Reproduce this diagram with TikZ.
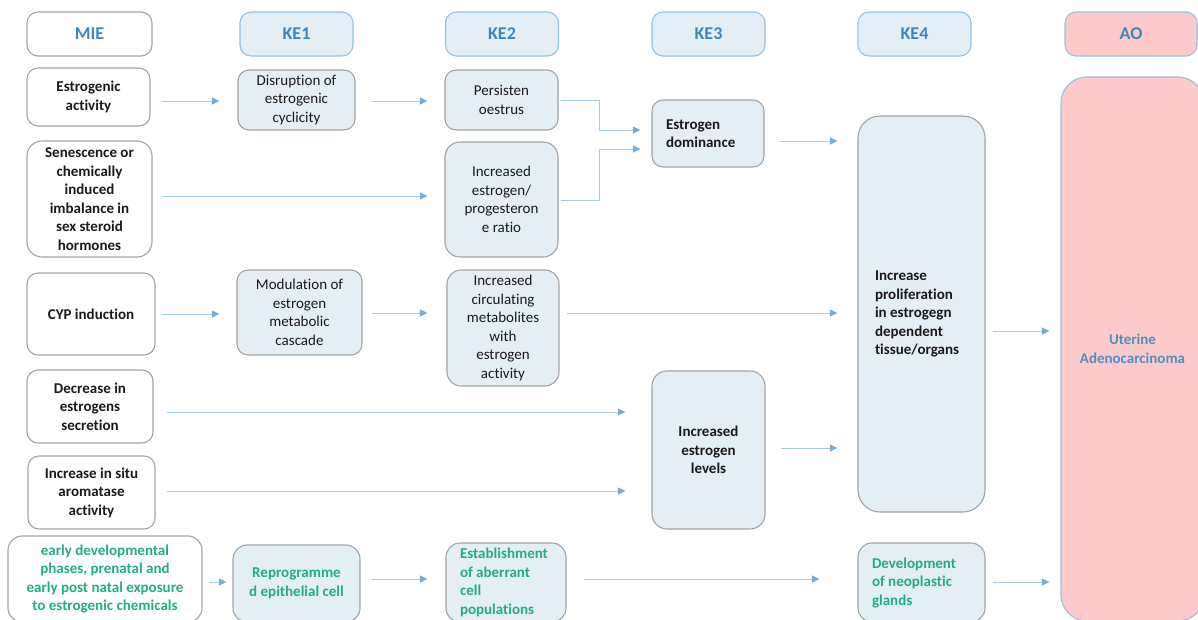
\documentclass[tikz,border=0pt]{standalone}
\usepackage{fontspec}
\setmainfont{Carlito}[Ligatures=NoCommon]
\usetikzlibrary{arrows.meta}

\definecolor{txt}{HTML}{1A1A1A}
\definecolor{gbord}{HTML}{A3A3A3}
\definecolor{hbord}{HTML}{95C2E2}
\definecolor{lblue}{HTML}{E4EEF5}
\definecolor{hblue}{HTML}{3C87BE}
\definecolor{pinkfill}{HTML}{FCCACA}
\definecolor{aoblue}{HTML}{4F8FC0}
\definecolor{devgreen}{HTML}{22AD86}
\definecolor{aline}{HTML}{A9CCE3}
\definecolor{atip}{HTML}{79ADD3}

% one-step horizontal connector: from, to, x offset, y offset, gap before target
\newcommand\hlink[5]{%
  \path ([shift={(#3,#4)}]#1.east) coordinate (hl-s);
  \draw[arr, shorten >=#5pt] (hl-s) -- (hl-s -| #2.west);}

\begin{document}
\begin{tikzpicture}[x=1pt, y=-1pt,
  base/.style={rounded corners=11pt, line width=1.1pt, inner sep=0pt,
    font=\fontsize{15}{18.5}\selectfont, text=txt},
  mie/.style={base, draw=gbord, fill=white, align=center,
    font=\fontsize{15}{18.5}\selectfont\bfseries},
  ke/.style={base, draw=gbord, fill=lblue, align=center},
  bold/.style={font=\fontsize{15}{18.5}\selectfont\bfseries},
  green/.style={bold, text=devgreen},
  lefttext/.style={align=flush left, text width=#1},
  hdr/.style={base, draw=hbord, fill=lblue, text=hblue,
    font=\fontsize{18}{22}\selectfont\bfseries,
    minimum width=113pt, minimum height=44pt},
  arr/.style={draw=aline, line width=1pt,
    -{Triangle[length=7.5pt, width=7pt, color=atip]}}
]
\clip (0,0) rectangle (1198,619);
\fill[white] (0,0) rectangle (1198,619);

% column headers
\node[hdr, draw=gbord, fill=white, minimum width=125pt] (hmie) at (89.5,34) {MIE};
\node[hdr] (hke1) at (296.5,34) {KE1};
\node[hdr] (hke2) at (502,34) {KE2};
\node[hdr] (hke3) at (708.5,34) {KE3};
\node[hdr] (hke4) at (914.5,34) {KE4};
\node[hdr, fill=pinkfill, minimum width=132pt] (hao) at (1131,34) {AO};

% molecular initiating events
\node[mie, minimum width=123pt, minimum height=58pt] (m1) at (88.5,97) {Estrogenic\\activity};
\node[mie, minimum width=125pt, minimum height=116pt, rounded corners=15pt] (m2) at (89.5,199)
  {Senescence or\\chemically\\induced\\imbalance in\\sex steroid\\hormones};
\node[mie, minimum width=128pt, minimum height=82pt] (m3) at (91,314) {CYP induction};
\node[mie, minimum width=126pt, minimum height=73pt] (m4) at (90,406.5) {Decrease in\\estrogens\\secretion};
\node[mie, minimum width=127pt, minimum height=73pt] (m5) at (91.5,492.5) {Increase in situ\\aromatase\\activity};
\node[mie, green, minimum width=194pt, minimum height=86pt, rounded corners=14pt] (m6) at (105,579)
  {early developmental\\phases, prenatal and\\early post natal exposure\\to estrogenic chemicals};

% KE1
\node[ke, minimum width=117pt, minimum height=60pt] (k1a) at (296.5,100) {Disruption of\\estrogenic\\cyclicity};
\node[ke, minimum width=125pt, minimum height=85pt] (k1b) at (299.5,312.5) {Modulation of\\estrogen\\metabolic\\cascade};
\node[ke, green, minimum width=127pt, minimum height=77pt, rounded corners=14pt] (k1c) at (296.5,583.5) {Reprogramme\\d epithelial cell};

% KE2
\node[ke, minimum width=113pt, minimum height=60pt] (k2a) at (501.5,100) {Persisten\\oestrus};
\node[ke, minimum width=113pt, minimum height=115pt, rounded corners=15pt] (k2b) at (501.5,199.5)
  {Increased\\estrogen/\\progesteron\\e ratio};
\node[ke, minimum width=112pt, minimum height=116pt, rounded corners=14pt] (k2c) at (503,328)
  {Increased\\circulating\\metabolites\\with\\estrogen\\activity};
\node[ke, green, lefttext=92pt, inner xsep=14pt, minimum height=79pt, rounded corners=14pt] (k2d) at (506,582.5)
  {Establishment\\of aberrant\\cell\\populations};

% KE3
\node[ke, bold, lefttext=84pt, inner xsep=14pt, minimum height=67pt] (k3a) at (708,133.5) {Estrogen\\dominance};
\node[ke, bold, minimum width=113pt, minimum height=158pt, rounded corners=15pt] (k3b) at (708.5,450) {Increased\\estrogen\\levels};

% KE4
\node[ke, bold, lefttext=93pt, inner xsep=17pt, minimum height=396pt, rounded corners=22pt] (k4a) at (921.5,314)
  {Increase\\proliferation\\in estrogegn\\dependent\\tissue/organs};
\node[ke, green, lefttext=99pt, inner xsep=14pt, minimum height=79pt, rounded corners=14pt] (k4b) at (921.5,582.5)
  {Development\\of neoplastic\\glands};

% adverse outcome
\node[base, draw=hbord, fill=pinkfill, bold, text=aoblue, align=center,
  minimum width=143pt, minimum height=544pt, rounded corners=26pt] (ao) at (1132.5,349)
  {Uterine\\Adenocarcinoma};

% connectors
\hlink{m1}{k1a}{11}{4}{18}
\hlink{k1a}{k2a}{16}{1}{17}
\hlink{m2}{k2b}{9}{-3}{17}
\draw[arr] ([xshift=2pt]k2a.east) -| ([shift={(-52,-3.5)}]k3a.west) -- ([shift={(-11,-3.5)}]k3a.west);
\draw[arr] ([shift={(2,0.5)}]k2b.east) -| ([shift={(-52,15.5)}]k3a.west) -- ([shift={(-11,15.5)}]k3a.west);
\hlink{k3a}{k4a}{15}{7.5}{20}
\hlink{m3}{k1b}{6}{0}{17}
\hlink{k1b}{k2c}{9}{0.5}{19}
\hlink{k2c}{k4a}{7}{-15}{20}
\hlink{m4}{k3b}{13}{5.5}{26}
\hlink{m5}{k3b}{11}{-1.5}{26}
\hlink{k3b}{k4a}{15}{-2}{20}
\hlink{k4a}{ao}{7}{17}{11}
\hlink{m6}{k1c}{6}{3}{6}
\hlink{k1c}{k2d}{11}{-4.5}{18}
\hlink{k2d}{k4b}{17}{-3.5}{38}
\hlink{k4b}{ao}{7}{-0.5}{11}
\end{tikzpicture}
\end{document}
